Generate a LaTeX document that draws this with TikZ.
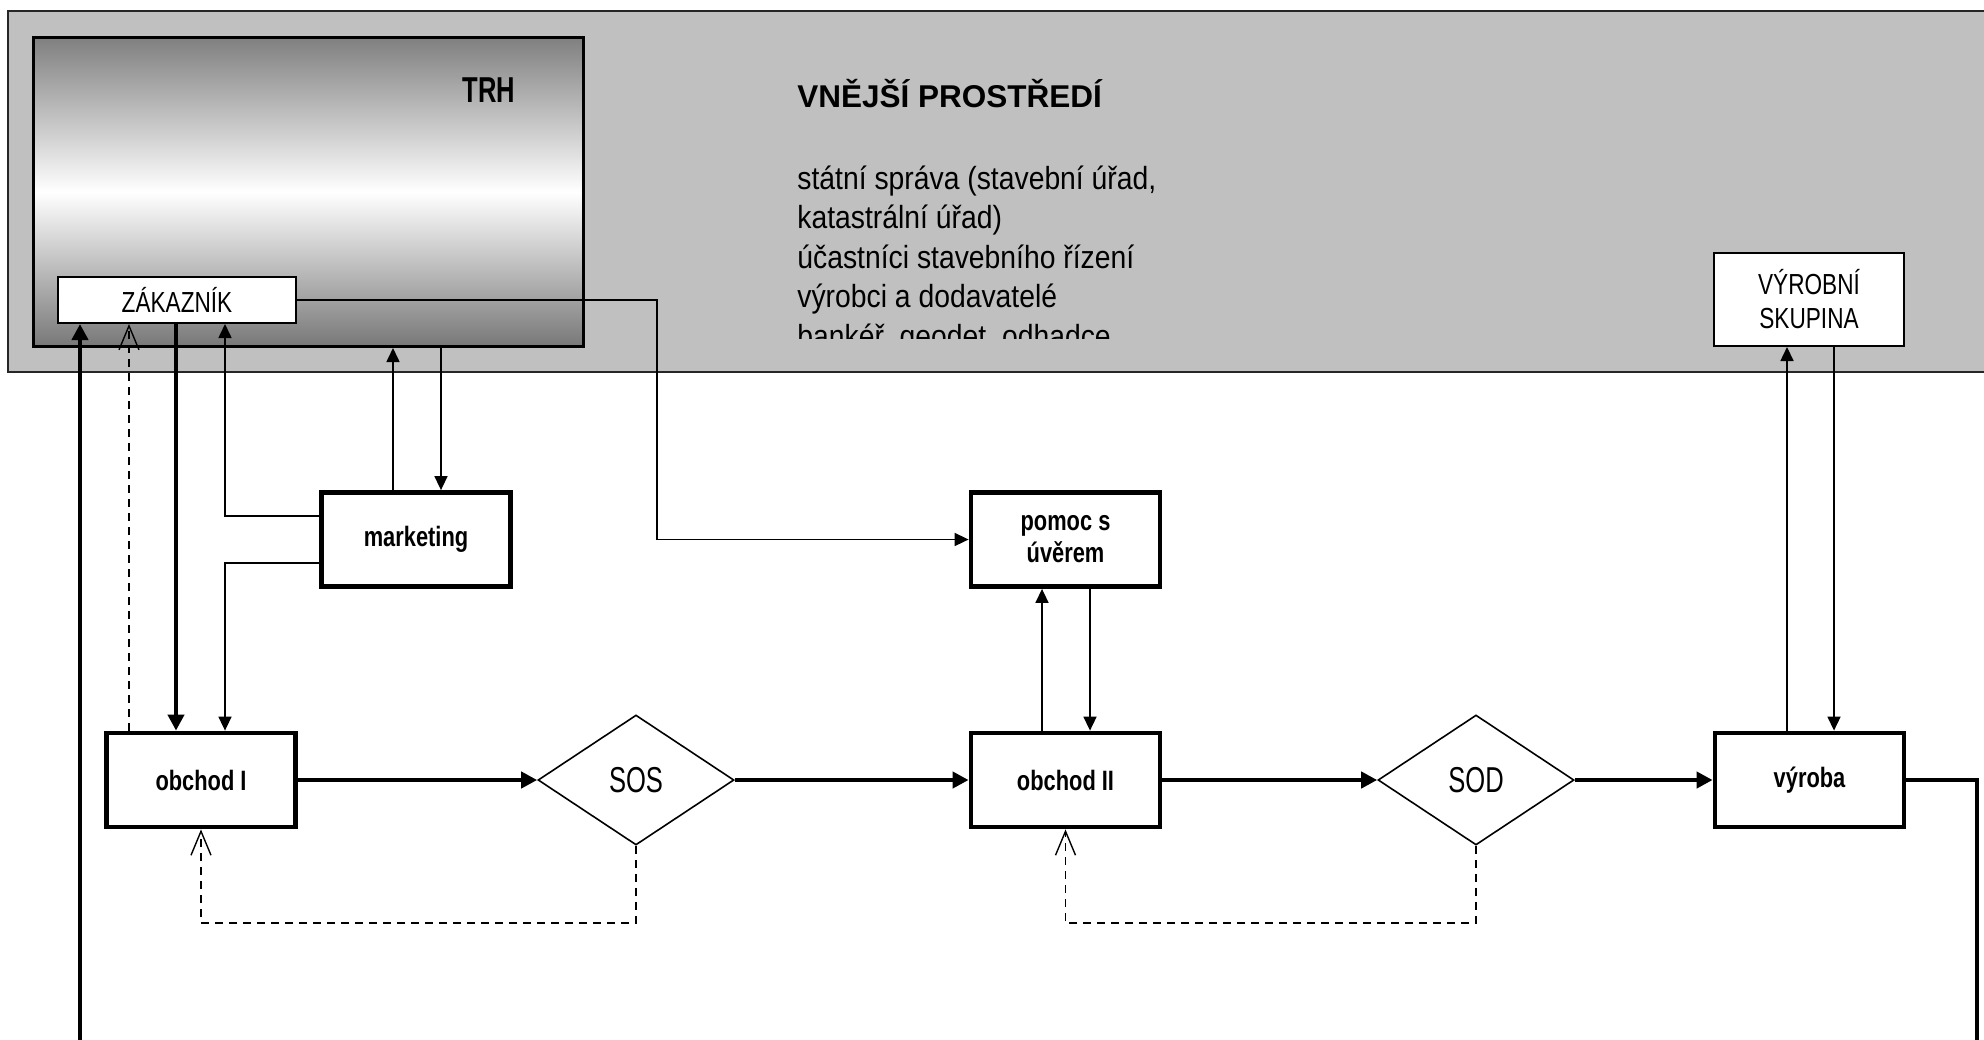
\documentclass[tikz,border=0pt]{standalone}
\usepackage{fontspec}
\setmainfont{Liberation Sans}
\newfontfamily\bodyfont{Liberation Sans}[FakeStretch=0.885]
\newfontfamily\smallcond{Liberation Sans}[FakeStretch=0.78]
\newfontfamily\bigcond{Liberation Sans}[FakeStretch=0.71]
\usetikzlibrary{arrows.meta,shapes.geometric}
\definecolor{envgray}{RGB}{192,192,192}
\begin{document}
\begin{tikzpicture}[x=0.5pt,y=-0.5pt,
  procbox/.style={draw=black, line width=2.4pt, fill=white, minimum width=94.5pt, minimum height=47pt, inner sep=0pt, align=center, font=\smallcond\bfseries\fontsize{14}{16}\selectfont},
  whitebox/.style={draw=black, line width=1pt, fill=white, inner sep=0pt, align=center, font=\smallcond\fontsize{14.5}{17}\selectfont},
  trhbox/.style={draw=black, line width=1.5pt, minimum width=275pt, minimum height=154.5pt, inner sep=0pt, top color=black!50, bottom color=black!53, middle color=white},
  decision/.style={diamond, draw=black, line width=0.8pt, fill=white, minimum width=98pt, minimum height=65pt, inner sep=0pt, font=\bigcond\fontsize{18}{20}\selectfont},
  mainflow/.style={line width=2.2pt, -{Triangle[length=8pt,width=8pt]}},
  thinlink/.style={line width=0.8pt, -{Triangle[length=7pt,width=6.5pt]}},
  fbdash/.style={line width=0.7pt, dash pattern=on 4pt off 3pt, -{Straight Barb[length=12pt,width=10pt]}},
  plaintext/.style={anchor=base west, inner sep=0pt}
]
\useasboundingbox (0,0) rectangle (1984,1039);
\fill[white] (0,0) rectangle (1984,1039);
\clip (0,0) rectangle (1984,1039);

% environment
\draw[fill=envgray, draw=black!85, line width=1pt] (8,11) rectangle (2010,372);

% market
\node[trhbox] (trh) at (308.5,192) {};
\node[plaintext, font=\bigcond\bfseries\fontsize{18}{20}\selectfont] (trhlabel) at (462,102) {TRH};
\node[whitebox, minimum width=119pt, minimum height=23pt] (zak) at (177,300) {ZÁKAZNÍK};

% outside environment text
\node[plaintext, font=\bfseries\fontsize{15.75}{19}\selectfont] (vp) at (797,107) {VNĚJŠÍ PROSTŘEDÍ};
\begin{scope}
\clip (780,150) rectangle (1500,338);
\node[plaintext, font=\bodyfont\fontsize{16}{19.8}\selectfont] (l1) at (797,189) {státní správa (stavební úřad,};
\node[plaintext, font=\bodyfont\fontsize{16}{19.8}\selectfont] (l2) at (797,228.6) {katastrální úřad)};
\node[plaintext, font=\bodyfont\fontsize{16}{19.8}\selectfont] (l3) at (797,268.2) {účastníci stavebního řízení};
\node[plaintext, font=\bodyfont\fontsize{16}{19.8}\selectfont] (l4) at (797,307.8) {výrobci a dodavatelé};
\node[plaintext, font=\bodyfont\fontsize{16}{19.8}\selectfont] (l5) at (797,347.4) {bankéř, geodet, odhadce};
\end{scope}

\node[whitebox, minimum width=95pt, minimum height=46.5pt] (vs) at (1809,299.5) {VÝROBNÍ\\SKUPINA};

% process boxes
\node[procbox] (mkt) at (416,539.5) {marketing};
\node[procbox] (pom) at (1065.5,539.5) {pomoc s\\úvěrem};
\node[procbox] (ob1) at (201,780) {obchod I};
\node[procbox] (ob2) at (1065.5,780) {obchod II};
\node[procbox] (vyr) at (1809.5,780) {výroba};
\node[decision] (sos) at (636,780) {SOS};
\node[decision] (sod) at (1476,780) {SOD};

% helper coordinates
\coordinate (cD) at (129,0);
\coordinate (cB) at (176,0);
\coordinate (cM) at (225,0);
\coordinate (cU) at (393,0);
\coordinate (cV) at (441,0);
\coordinate (cZ) at (657,539.5);
\coordinate (cP1) at (1042,0);
\coordinate (cP2) at (1090,0);
\coordinate (cR1) at (1787,0);
\coordinate (cR2) at (1834,0);
\coordinate (m1) at (0,516);
\coordinate (m2) at (0,563);
\coordinate (fb) at (0,923);
\coordinate (loopR) at (1977,1080);
\coordinate (loopL) at (80,1080);

% connectors
\draw[mainflow] (vyr.east) -| (loopR) -- (loopL) -- (loopL |- zak.south);
\draw[mainflow] (zak.south -| cB) -- (ob1.north -| cB);
\draw[fbdash] (ob1.north -| cD) -- (zak.south -| cD);
\draw[thinlink] (mkt.west |- m1) -| (cM |- zak.south);
\draw[thinlink] (mkt.west |- m2) -| (cM |- ob1.north);
\draw[thinlink] (mkt.north -| cU) -- (trh.south -| cU);
\draw[thinlink] (trh.south -| cV) -- (mkt.north -| cV);
\draw[thinlink] (zak.east) -| (cZ) -- (pom.west);
\draw[thinlink] (ob2.north -| cP1) -- (pom.south -| cP1);
\draw[thinlink] (pom.south -| cP2) -- (ob2.north -| cP2);
\draw[thinlink] (vyr.north -| cR1) -- (vs.south -| cR1);
\draw[thinlink] (vs.south -| cR2) -- (vyr.north -| cR2);
\draw[mainflow] (ob1.east) -- (sos.west);
\draw[mainflow] (sos.east) -- (ob2.west);
\draw[mainflow] (ob2.east) -- (sod.west);
\draw[mainflow] (sod.east) -- (vyr.west);
\draw[fbdash] (sos.south) |- (ob1.south |- fb) -- (ob1.south);
\draw[fbdash] (sod.south) |- (ob2.south |- fb) -- (ob2.south);
\end{tikzpicture}
\end{document}
